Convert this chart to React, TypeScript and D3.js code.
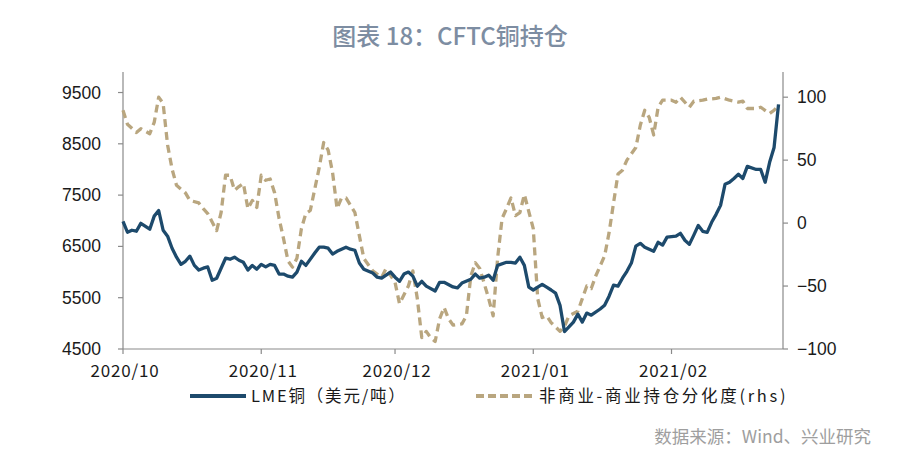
import React from 'react';
import * as d3 from 'd3';

const lmeDates = [
  '2020-10-01','2020-10-02','2020-10-03','2020-10-04','2020-10-05','2020-10-07','2020-10-08','2020-10-09','2020-10-10','2020-10-11',
  '2020-10-12','2020-10-13','2020-10-14','2020-10-15','2020-10-16','2020-10-17','2020-10-18','2020-10-19','2020-10-20','2020-10-21',
  '2020-10-22','2020-10-23','2020-10-24','2020-10-25','2020-10-26','2020-10-27','2020-10-28','2020-10-29','2020-10-30','2020-10-31',
  '2020-11-01','2020-11-02','2020-11-03','2020-11-04','2020-11-05','2020-11-06','2020-11-07','2020-11-08','2020-11-09','2020-11-10',
  '2020-11-11','2020-11-13','2020-11-14','2020-11-15','2020-11-16','2020-11-17','2020-11-18','2020-11-20','2020-11-21','2020-11-22',
  '2020-11-23','2020-11-24','2020-11-26','2020-11-27','2020-11-28','2020-11-30','2020-12-01','2020-12-02','2020-12-03','2020-12-04',
  '2020-12-05','2020-12-06','2020-12-07','2020-12-08','2020-12-10','2020-12-11','2020-12-12','2020-12-14','2020-12-15','2020-12-16',
  '2020-12-18','2020-12-19','2020-12-20','2020-12-21','2020-12-22','2020-12-23','2020-12-24','2020-12-26','2020-12-27','2020-12-28',
  '2020-12-29','2020-12-30','2020-12-31','2021-01-01','2021-01-02','2021-01-03','2021-01-04','2021-01-05','2021-01-06','2021-01-07',
  '2021-01-08','2021-01-09','2021-01-10','2021-01-11','2021-01-12','2021-01-13','2021-01-14','2021-01-16','2021-01-17','2021-01-18',
  '2021-01-19','2021-01-20','2021-01-21','2021-01-22','2021-01-23','2021-01-24','2021-01-25','2021-01-26','2021-01-27','2021-01-28',
  '2021-01-29','2021-01-30','2021-01-31','2021-02-02','2021-02-03','2021-02-04','2021-02-05','2021-02-06','2021-02-07','2021-02-08',
  '2021-02-09','2021-02-10','2021-02-11','2021-02-12','2021-02-13','2021-02-14','2021-02-15','2021-02-16','2021-02-17','2021-02-18',
  '2021-02-20','2021-02-21','2021-02-22','2021-02-23','2021-02-24','2021-02-25'
];
const lmeValues = [
  6990,6776,6815,6796,6950,6835,7090,7200,6815,6700,
  6465,6290,6150,6210,6310,6130,6040,6075,6100,5840,
  5880,6075,6270,6250,6290,6230,6190,6040,6130,6055,
  6150,6100,6150,6130,5960,5960,5920,5900,6000,6210,
  6130,6370,6485,6485,6465,6350,6405,6485,6445,6425,
  6175,6055,5980,5900,5880,6000,5900,5820,5960,6000,
  5920,5725,5820,5725,5630,5800,5800,5710,5690,5785,
  5860,5960,5880,5900,5940,5840,6130,6190,6190,6175,
  6290,6130,5705,5650,5705,5760,5705,5650,5590,5350,
  4840,4930,5025,5180,5025,5200,5160,5280,5355,5530,
  5745,5725,5880,6015,6175,6505,6560,6485,6445,6405,
  6580,6525,6680,6700,6755,6620,6540,6720,6910,6795,
  6775,6970,7125,7300,7710,7750,7825,7905,7825,8060,
  8000,8000,7750,8140,8430,9270
];

const spreadDates = [
  '2020-10-01','2020-10-02','2020-10-04','2020-10-05','2020-10-07','2020-10-08','2020-10-09','2020-10-10','2020-10-11','2020-10-12',
  '2020-10-13','2020-10-15','2020-10-16','2020-10-18','2020-10-19','2020-10-20','2020-10-22','2020-10-23','2020-10-24','2020-10-25',
  '2020-10-26','2020-10-27','2020-10-28','2020-10-29','2020-10-30','2020-10-31','2020-11-01','2020-11-02','2020-11-03','2020-11-04',
  '2020-11-05','2020-11-06','2020-11-07','2020-11-08','2020-11-09','2020-11-10','2020-11-11','2020-11-12','2020-11-14','2020-11-15',
  '2020-11-16','2020-11-17','2020-11-18','2020-11-19','2020-11-20','2020-11-22','2020-11-23','2020-11-24','2020-11-26','2020-11-28',
  '2020-11-29','2020-12-01','2020-12-02','2020-12-04','2020-12-05','2020-12-06','2020-12-07','2020-12-08','2020-12-09','2020-12-10',
  '2020-12-11','2020-12-12','2020-12-13','2020-12-14','2020-12-16','2020-12-17','2020-12-18','2020-12-19','2020-12-20','2020-12-22',
  '2020-12-23','2020-12-24','2020-12-25','2020-12-26','2020-12-27','2020-12-28','2020-12-29','2020-12-30','2021-01-01','2021-01-02',
  '2021-01-03','2021-01-04','2021-01-05','2021-01-07','2021-01-08','2021-01-09','2021-01-11','2021-01-12','2021-01-13','2021-01-14',
  '2021-01-15','2021-01-17','2021-01-18','2021-01-19','2021-01-20','2021-01-21','2021-01-22','2021-01-23','2021-01-24','2021-01-25',
  '2021-01-26','2021-01-27','2021-01-28','2021-01-29','2021-01-30','2021-02-01','2021-02-02','2021-02-03','2021-02-05','2021-02-06',
  '2021-02-08','2021-02-09','2021-02-11','2021-02-12','2021-02-14','2021-02-16','2021-02-17','2021-02-18','2021-02-20','2021-02-21',
  '2021-02-23','2021-02-24','2021-02-25'
];
const spreadValues = [
  89.6,78.5,72,75,71,80,100,95,62,43,
  30,24,18,16,11.5,7.6,-6,8.4,38,38,
  26,29,31.5,11.5,18,12.4,38,34,35,24,
  3.6,-12.4,-30,-35,-28,-4.4,7.6,10,44,64,
  58,40,11.5,20,20,8.4,-10,-28,-38,-43,
  -36,-47,-64,-50,-38,-60,-91,-86,-91,-94,
  -76,-67,-76,-81,-80,-73.7,-42,-31.5,-36,-60,
  -73.7,-28,3.6,11.5,20,6,8.4,22.7,-4.4,-60,
  -75,-73.7,-79,-86,-82,-73.7,-70,-60,-50,-52,
  -42,-26,-7.6,16,39,42,50,55,60,77.7,
  89.6,84,70,92,97.6,97.6,96,100,92,96.8,
  97.6,98.4,99,100,97.6,96,96.8,91,91,92,
  87,89.6,93.6
];

const leftTicks = [4500, 5500, 6500, 7500, 8500, 9500];
const rightTicks = [-100, -50, 0, 50, 100];
const monthTickDates = ['2020-10-01', '2020-11-01', '2020-12-01', '2021-01-01', '2021-02-01'];
const monthTickLabels = ['2020/10', '2020/11', '2020/12', '2021/01', '2021/02'];

const titleText = '图表 18：CFTC铜持仓';
const legendLme = 'LME铜（美元/吨）';
const legendSpread = '非商业-商业持仓分化度(rhs)';
const sourceText = '数据来源：Wind、兴业研究';

const NAVY = '#1d4a6c';
const TAN = '#b9a67f';
const AXIS = '#8a8a8a';
const CJK = '"Noto Sans CJK SC", "Noto Sans", sans-serif';
const LAT = '"Liberation Sans", Arial, sans-serif';

export default function App() {
  const W = 900, H = 460;
  const parse = d3.timeParse('%Y-%m-%d');
  const left = 123, right = 783, top = 72, bottom = 349;
  const x = d3.scaleTime()
    .domain([parse('2020-10-01') as Date, parse('2021-02-26') as Date])
    .range([left, right]);
  const yL = d3.scaleLinear().domain([4500, 9900]).range([bottom, top]);
  const yR = d3.scaleLinear().domain([-100, 120]).range([bottom, top]);

  const lmeData = lmeDates.map((d, i) => [parse(d) as Date, lmeValues[i]] as [Date, number]);
  const spreadData = spreadDates.map((d, i) => [parse(d) as Date, spreadValues[i]] as [Date, number]);

  const lineL = d3.line<[Date, number]>().x(d => x(d[0])).y(d => yL(d[1]));
  const lineR = d3.line<[Date, number]>().x(d => x(d[0])).y(d => yR(d[1]));

  return (
    <svg width={W} height={H} style={{ position: 'absolute', left: 0, top: 0, background: '#fff' }}>
      <rect x={0} y={0} width={W} height={H} fill="#fff" />
      <text x={450} y={45} textAnchor="middle" fontFamily={CJK} fontSize={24} fontWeight={500} fill="#7d8da2">{titleText}</text>

      {/* axes */}
      <line x1={left} x2={left} y1={top} y2={bottom} stroke={AXIS} strokeWidth={1.2} />
      <line x1={right} x2={right} y1={top} y2={bottom} stroke={AXIS} strokeWidth={1.2} />
      <line x1={left} x2={right} y1={bottom} y2={bottom} stroke={AXIS} strokeWidth={1.2} />

      {leftTicks.map(t => (
        <g key={'l' + t}>
          <line x1={left - 5} x2={left} y1={yL(t)} y2={yL(t)} stroke={AXIS} strokeWidth={1.2} />
          <text x={101} y={yL(t) + 6} textAnchor="end" fontFamily={LAT} fontSize={17.5} fill="#1a1a1a">{t}</text>
        </g>
      ))}
      {rightTicks.map(t => (
        <g key={'r' + t}>
          <line x1={right} x2={right + 5} y1={yR(t)} y2={yR(t)} stroke={AXIS} strokeWidth={1.2} />
          <text x={797} y={yR(t) + 6} textAnchor="start" fontFamily={LAT} fontSize={17.5} fill="#1a1a1a">{t < 0 ? '\u2212' + Math.abs(t) : t}</text>
        </g>
      ))}
      {monthTickDates.map((d, i) => {
        const px = x(parse(d) as Date);
        return (
          <g key={'m' + d}>
            <line x1={px} x2={px} y1={bottom} y2={bottom + 5} stroke={AXIS} strokeWidth={1.2} />
            <text x={px + 2} y={377} textAnchor="middle" fontFamily={CJK} fontSize={17} letterSpacing={0.8} fill="#1a1a1a">{monthTickLabels[i]}</text>
          </g>
        );
      })}

      {/* series */}
      <path d={lineR(spreadData) || ''} fill="none" stroke={TAN} strokeWidth={3.3} strokeDasharray="8,5" strokeLinejoin="round" />
      <path d={lineL(lmeData) || ''} fill="none" stroke={NAVY} strokeWidth={3.3} strokeLinejoin="round" />

      {/* legend */}
      <line x1={190} x2={246} y1={396} y2={396} stroke={NAVY} strokeWidth={4} />
      <text x={251} y={402} fontFamily={CJK} fontSize={16.5} letterSpacing={1.8} fill="#1a1a1a">{legendLme}</text>
      <line x1={476} x2={532} y1={396} y2={396} stroke={TAN} strokeWidth={4} strokeDasharray="8,4" />
      <text x={539} y={402} fontFamily={CJK} fontSize={16.5} letterSpacing={2.7} fill="#1a1a1a">{legendSpread}</text>

      <text x={871} y={443} textAnchor="end" fontFamily={CJK} fontSize={17.5} fill="#9e9e9e">{sourceText}</text>
    </svg>
  );
}
